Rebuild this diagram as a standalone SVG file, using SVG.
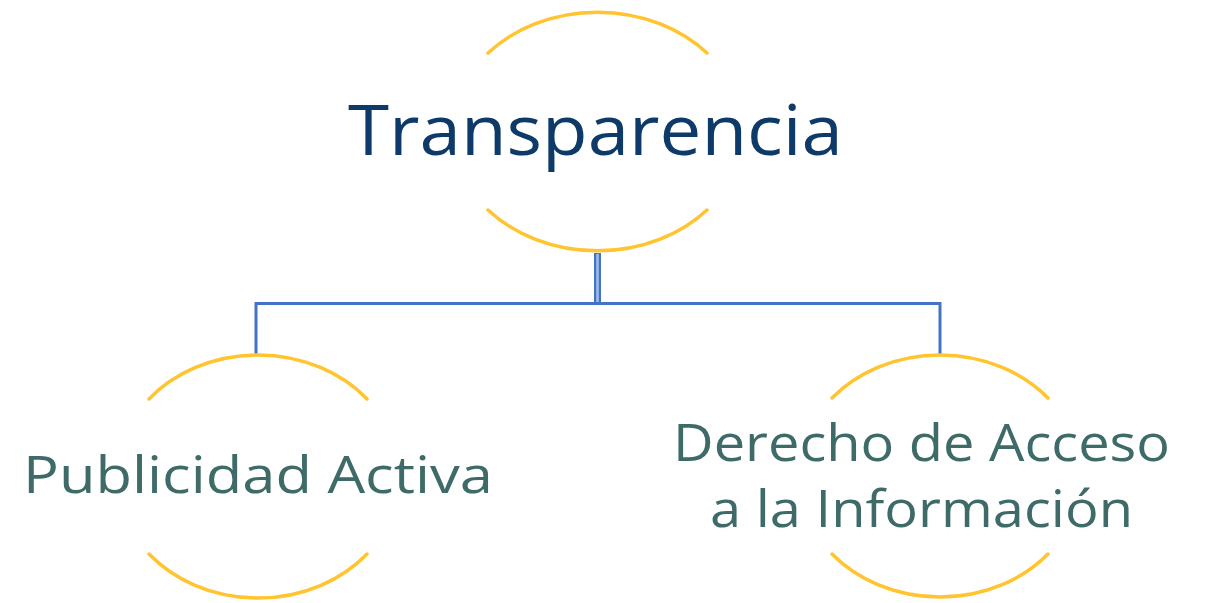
<svg xmlns="http://www.w3.org/2000/svg" width="1214" height="603" viewBox="0 0 1214 603">
<style>
.arc{fill:none;stroke:#FFC42E;stroke-width:3.5;stroke-linecap:round}
.conn{fill:none;stroke:#4472C4;stroke-width:3}
.t1{font-family:"Open Sans","Noto Sans",sans-serif;font-size:70px;fill:#0E3A6A}
.t2{font-family:"Open Sans","Noto Sans",sans-serif;font-size:52px;fill:#3E6B68}
</style>
<rect width="1214" height="603" fill="#ffffff"/>
<g id="connectors">
<line x1="597.5" y1="253" x2="597.5" y2="304" stroke="#4472C4" stroke-width="7"/>
<line x1="597.5" y1="254" x2="597.5" y2="302" stroke="#9FC0E6" stroke-width="2.5"/>
<path class="conn" d="M256,355 V303.5 H940 V355"/>
</g>
<g id="node-transparencia">
<path class="arc" d="M488,53 A146,120.5 0 0 1 707,53"/>
<path class="arc" d="M488,210 A146,120.5 0 0 0 707,210"/>
<text class="t1" x="595.5" y="155" text-anchor="middle" textLength="495" lengthAdjust="spacingAndGlyphs">Transparencia</text>
</g>
<g id="node-publicidad">
<path class="arc" d="M149,399 A141.5,121.5 0 0 1 367,399"/>
<path class="arc" d="M149,554 A141.5,121.5 0 0 0 367,554"/>
<text class="t2" x="258" y="493" text-anchor="middle" textLength="470" lengthAdjust="spacingAndGlyphs">Publicidad Activa</text>
</g>
<g id="node-derecho">
<path class="arc" d="M832,398 A141.5,121.5 0 0 1 1048,398"/>
<path class="arc" d="M832,554 A141.5,121.5 0 0 0 1048,554"/>
<text class="t2" x="921.5" y="461" text-anchor="middle" textLength="497" lengthAdjust="spacingAndGlyphs">Derecho de Acceso</text>
<text class="t2" x="921.5" y="527" text-anchor="middle" textLength="423" lengthAdjust="spacingAndGlyphs">a la Información</text>
</g>
</svg>
